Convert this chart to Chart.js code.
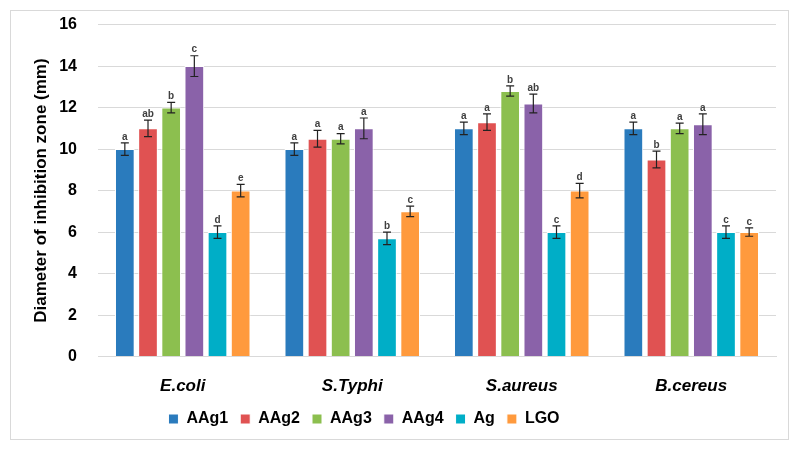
<!DOCTYPE html>
<html>
<head>
<meta charset="utf-8">
<script src="https://cdn.jsdelivr.net/npm/chart.js@4"></script>
<style>
  body { margin: 0; background: #fff; }
  #frame { position: absolute; left: 10px; top: 10px; width: 779px; height: 430px; border: 1px solid #d9d9d9; box-sizing: border-box; }
  #wrap { position: absolute; left: 0; top: -17px; right: 0; bottom: -10px; }
</style>
</head>
<body>
<div id="frame"><div id="wrap"><canvas id="zoneChart"></canvas></div></div>
<script>
// categories and series
const bacteria = ['E.coli', 'S.Typhi', 'S.aureus', 'B.cereus'];
const seriesNames = ['AAg1', 'AAg2', 'AAg3', 'AAg4', 'Ag', 'LGO'];
const seriesColors = ['#2a7bbd', '#e05252', '#8cbf4f', '#8a62a9', '#00aec7', '#ff9a3d'];

const aag1 = [10, 10, 11, 11];
const aag2 = [11, 10.5, 11.3, 9.5];
const aag3 = [12, 10.5, 12.8, 11];
const aag4 = [14, 11, 12.2, 11.2];
const ag   = [6, 5.7, 6, 6];
const lgo  = [8, 7, 8, 6];

const errAag1 = [0.3, 0.3, 0.3, 0.3];
const errAag2 = [0.4, 0.4, 0.4, 0.4];
const errAag3 = [0.25, 0.25, 0.25, 0.25];
const errAag4 = [0.5, 0.5, 0.45, 0.5];
const errAg   = [0.3, 0.3, 0.3, 0.3];
const errLgo  = [0.3, 0.25, 0.35, 0.2];

const lettersAag1 = ['a', 'a', 'a', 'a'];
const lettersAag2 = ['ab', 'a', 'a', 'b'];
const lettersAag3 = ['b', 'a', 'b', 'a'];
const lettersAag4 = ['c', 'a', 'ab', 'a'];
const lettersAg   = ['d', 'b', 'c', 'c'];
const lettersLgo  = ['e', 'c', 'd', 'c'];

const yTicks = [0, 2, 4, 6, 8, 10, 12, 14, 16];

const values = [aag1, aag2, aag3, aag4, ag, lgo];
const errors = [errAag1, errAag2, errAag3, errAag4, errAg, errLgo];
const letters = [lettersAag1, lettersAag2, lettersAag3, lettersAag4, lettersAg, lettersLgo];

// error bars + significance letters
const errorBarPlugin = {
    id: 'errorBars',
    afterDatasetsDraw(chart) {
        const ctx = chart.ctx;
        const y = chart.scales.y;
        ctx.save();
        chart.data.datasets.forEach((ds, di) => {
            const meta = chart.getDatasetMeta(di);
            meta.data.forEach((bar, i) => {
                const v = ds.data[i];
                const e = errors[di][i];
                const top = y.getPixelForValue(v + e);
                const bot = y.getPixelForValue(v - e);
                const x = bar.x;
                ctx.strokeStyle = '#222';
                ctx.lineWidth = 1.2;
                ctx.beginPath();
                ctx.moveTo(x, top); ctx.lineTo(x, bot);
                ctx.moveTo(x - 4, top); ctx.lineTo(x + 4, top);
                ctx.moveTo(x - 4, bot); ctx.lineTo(x + 4, bot);
                ctx.stroke();
                ctx.fillStyle = '#404040';
                ctx.font = 'bold 10px "Liberation Sans", Arial, sans-serif';
                ctx.textAlign = 'center';
                ctx.textBaseline = 'bottom';
                ctx.fillText(letters[di][i], x, top - 1);
            });
        });
        ctx.restore();
    }
};

// legend sits a bit left of centre and closer to the axis labels
const legendShift = {
    id: 'legendShift',
    afterLayout(chart) {
        const lg = chart.legend;
        lg.left -= 37; lg.right -= 37;
        lg.top -= 10; lg.bottom -= 10;
    }
};

Chart.defaults.font.family = "'Liberation Sans', Arial, sans-serif";
Chart.defaults.color = '#000';

new Chart(document.getElementById('zoneChart').getContext('2d'), {
    type: 'bar',
    data: {
        labels: bacteria,
        datasets: seriesNames.map((name, i) => ({
            label: name,
            data: values[i],
            backgroundColor: seriesColors[i],
            borderColor: '#ffffff',
            borderWidth: 1,
            categoryPercentage: 0.82,
            barPercentage: 0.85
        }))
    },
    options: {
        responsive: true,
        maintainAspectRatio: false,
        animation: false,
        layout: { padding: { left: 15, right: 12, top: 3, bottom: 2 } },
        plugins: {
            legend: {
                position: 'bottom',
                labels: {
                    boxWidth: 10,
                    boxHeight: 10,
                    padding: 12,
                    font: { size: 16, weight: 'bold' },
                    color: '#000'
                }
            },
            tooltip: { enabled: false }
        },
        scales: {
            y: {
                min: 0,
                max: 16,
                afterBuildTicks: (axis) => { axis.ticks = yTicks.map(v => ({ value: v })); },
                afterFit: (axis) => { axis.width = 72; },
                ticks: { font: { size: 16, weight: 'bold' }, color: '#000', padding: 21 },
                grid: { color: '#d9d9d9', drawTicks: false },
                border: { display: false },
                title: {
                    display: true,
                    text: 'Diameter of inhibition zone (mm)',
                    font: { size: 17, weight: 'bold' },
                    color: '#000',
                    padding: { top: 5, bottom: 0 }
                }
            },
            x: {
                ticks: { font: { size: 17, weight: 'bold', style: 'italic' }, color: '#000', padding: 12 },
                grid: { display: false },
                border: { color: '#d9d9d9' }
            }
        }
    },
    plugins: [errorBarPlugin, legendShift]
});
</script>
</body>
</html>
